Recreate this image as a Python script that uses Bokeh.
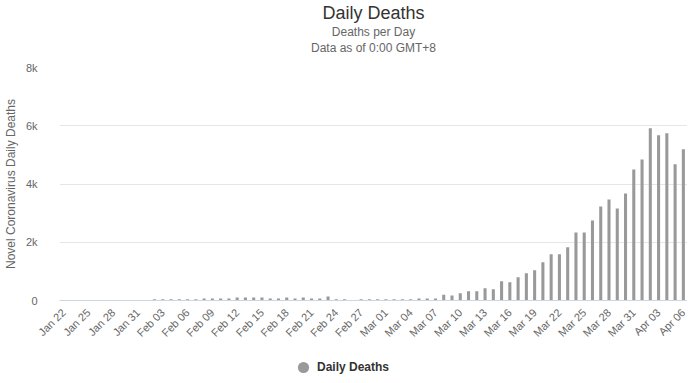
import math
import pandas as pd
from bokeh.plotting import figure
from bokeh.layouts import column
from bokeh.models import Range1d, FixedTicker, Title, Legend, LegendItem, ColumnDataSource
from bokeh.embed import file_html
from bokeh.resources import INLINE

# ---- data ----
dates = pd.date_range("2020-01-22", "2020-04-06", freq="D")
date_labels = [d.strftime("%b %d") for d in dates]

deaths_jan = [0, 0, 0, 0, 0, 0, 0, 0, 0, 0]                      # Jan 22 - Jan 31
deaths_feb = [0, 45, 45, 45, 45, 45, 45, 70, 70, 70,              # Feb 01 - Feb 10
              70, 105, 105, 105, 105, 70, 70, 105, 70, 105,       # Feb 11 - Feb 20
              70, 70, 140, 40, 40, 0, 40, 40, 40]                 # Feb 21 - Feb 29
deaths_mar = [40, 40, 40, 40, 70, 70, 70, 200, 170, 251,          # Mar 01 - Mar 10
              320, 320, 423, 388, 663, 629, 801, 938, 1041, 1316, # Mar 11 - Mar 20
              1591, 1591, 1832, 2337, 2337, 2749, 3230, 3470, 3161, 3677,  # Mar 21 - Mar 30
              4502]                                               # Mar 31
deaths_apr = [4845, 5911, 5670, 5739, 4674, 5189]                 # Apr 01 - Apr 06
deaths = deaths_jan + deaths_feb + deaths_mar + deaths_apr

series_name = "Daily Deaths"
tick_step = 3
y_ticks = [0, 2000, 4000, 6000, 8000]
y_tick_labels = ["0", "2k", "4k", "6k", "8k"]

FONT = "Liberation Sans"
BAR = "#999999"

idx = list(range(len(dates)))
src = ColumnDataSource(dict(x=idx, top=deaths, label=date_labels))

p = figure(frame_width=628, frame_height=233, output_backend="svg", toolbar_location=None,
           x_range=Range1d(-0.5, len(dates) - 0.5), y_range=Range1d(0, 8000),
           min_border_left=46, min_border_right=0, min_border_top=59, min_border_bottom=48,
           title=None)
p.outline_line_color = None

p.vbar(x="x", top="top", width=0.37, source=src, color=BAR, line_color=None)

# titles (first added is closest to the plot); a tiny spacer first
p.add_layout(Title(text=" ", text_font_size="1px", standoff=10), "above")
p.add_layout(Title(text="Data as of 0:00 GMT+8", align="center", text_font_size="12px",
                   text_font=FONT, text_color="#666666", text_font_style="normal", standoff=0), "above")
p.add_layout(Title(text="Deaths per Day", align="center", text_font_size="12px",
                   text_font=FONT, text_color="#666666", text_font_style="normal", standoff=0), "above")
p.add_layout(Title(text="Daily Deaths", align="center", text_font_size="18px",
                   text_font=FONT, text_color="#333333", text_font_style="normal", standoff=0), "above")

# x axis
xt = list(range(0, len(dates), tick_step))
p.xaxis.ticker = FixedTicker(ticks=xt)
p.xaxis.major_label_overrides = {i: date_labels[i] for i in xt}
p.xaxis.major_label_orientation = math.pi / 4
p.xaxis.major_label_text_font = FONT
p.xaxis.major_label_text_font_size = "11px"
p.xaxis.major_label_text_color = "#666666"
p.xaxis.major_tick_line_color = None
p.xaxis.minor_tick_line_color = None
p.xaxis.axis_line_color = "#ccd6eb"
p.xaxis.major_label_standoff = 4
p.xgrid.grid_line_color = None

# y axis
p.yaxis.ticker = FixedTicker(ticks=y_ticks)
p.yaxis.major_label_overrides = dict(zip(y_ticks, y_tick_labels))
p.yaxis.major_label_text_font = FONT
p.yaxis.major_label_text_font_size = "11px"
p.yaxis.major_label_text_color = "#666666"
p.yaxis.major_tick_line_color = None
p.yaxis.minor_tick_line_color = None
p.yaxis.axis_line_color = None
p.yaxis.major_label_standoff = 16
p.yaxis.axis_label = "Novel Coronavirus Daily Deaths"
p.yaxis.axis_label_text_font = FONT
p.yaxis.axis_label_text_font_size = "12px"
p.yaxis.axis_label_text_font_style = "normal"
p.yaxis.axis_label_text_color = "#666666"
p.yaxis.axis_label_standoff = 5
p.ygrid.ticker = FixedTicker(ticks=y_ticks)
p.ygrid.grid_line_color = "#e6e6e6"

# legend strip (circle symbol), its own small figure under the chart
q = figure(width=674, height=27, output_backend="svg", toolbar_location=None,
           x_axis_location=None, y_axis_location=None, min_border=0,
           x_range=Range1d(0, 1), y_range=Range1d(0, 1))
q.outline_line_color = None
q.grid.visible = False
key = q.scatter(x=[float("nan")], y=[float("nan")], marker="circle", size=12,
                color=BAR, line_color=None)
legend = Legend(items=[LegendItem(label=series_name, renderers=[key])],
                orientation="horizontal", location=(230, -7),
                border_line_color=None, background_fill_alpha=0,
                padding=0, margin=0, spacing=0, label_standoff=0,
                glyph_width=28, glyph_height=30, label_height=14,
                label_text_font=FONT, label_text_font_size="12px",
                label_text_font_style="bold", label_text_color="#333333")
q.add_layout(legend, "center")

layout = column(p, q, spacing=0)
open("out.html", "w").write(file_html(layout, INLINE))
